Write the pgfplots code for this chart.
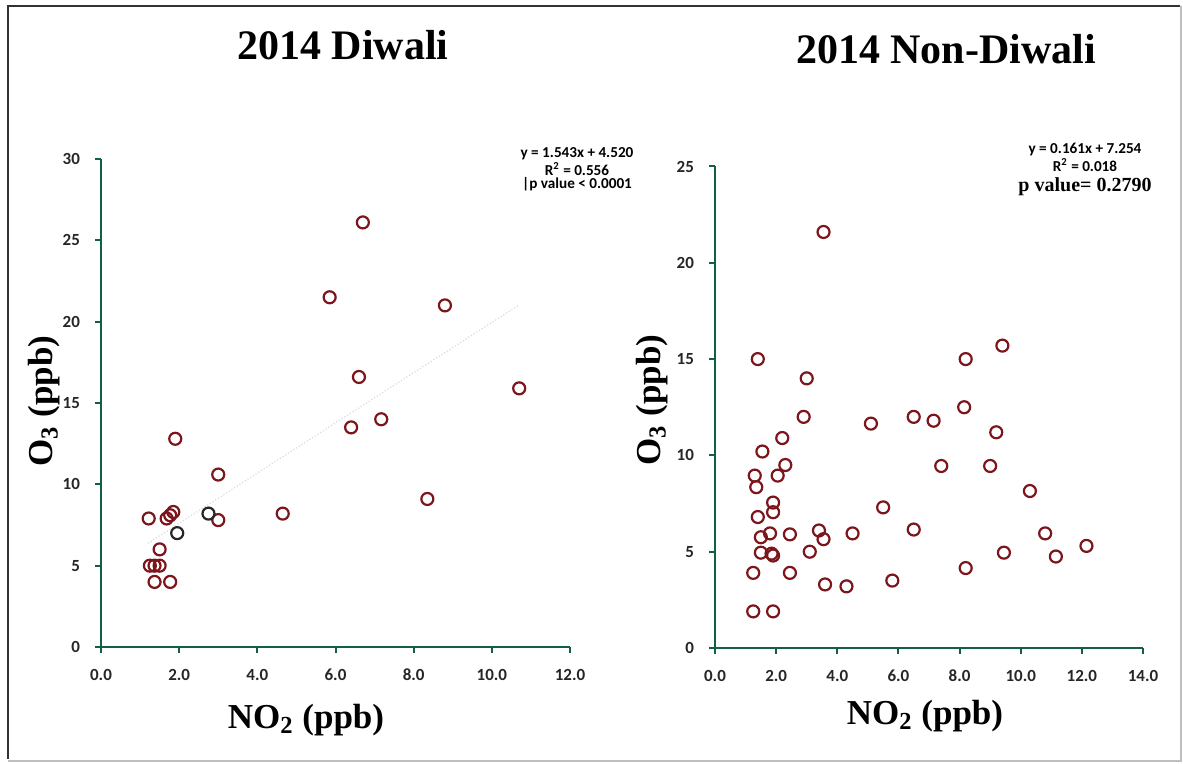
\documentclass[border=0pt]{standalone}
\usepackage{pgfplots}
\pgfplotsset{compat=1.18}
\usepackage{fontspec}
\setmainfont{Liberation Serif}
\newfontfamily\carlito{Carlito}

\definecolor{axgreen}{RGB}{18,95,65}
\definecolor{mkedge}{RGB}{125,22,28}
\definecolor{mkfill}{RGB}{250,218,218}

\pgfplotsset{
  panel/.style={
    scale only axis,
    anchor=south west,
    axis x line=bottom, axis y line=left,
    axis line style={draw=axgreen, line width=1.4pt, -},
    tick style={draw=axgreen, line width=1pt},
    tick align=outside,
    major tick length=3pt,
    ymin=0, xmin=0,
    /pgf/number format/assume math mode=true,
    ticklabel style={font=\carlito\bfseries\fontsize{8.5}{9}\selectfont, text=black!85},
    x tick label style={/pgf/number format/fixed, /pgf/number format/fixed zerofill,
      /pgf/number format/precision=1, yshift=-4.5pt},
    y tick label style={xshift=-4pt},
    clip=false,
  },
  obs/.style={only marks, mark=o, mark size=3pt,
    mark options={draw=mkedge, fill=mkfill, line width=1.1pt}},
}
\tikzset{stat/.style={font=\carlito\bfseries\fontsize{7.6}{8}\selectfont, inner sep=0pt}}

\begin{document}
\begin{tikzpicture}[x=0.5pt,y=0.5pt]
\useasboundingbox (0,0) rectangle (1183,764);
\fill[white] (0,0) rectangle (1183,764);
% frame around both panels
\draw[black!80, line width=1.4pt] (8,5) -- (8,758) -- (1180,758);
\draw[black!25, line width=1pt] (1181,758) -- (1181,3) -- (8,3);

% ---------- 2014 Diwali ----------
\begin{axis}[panel, at={(50.5pt,58.5pt)},
  width=234.5pt, height=244pt,
  xmax=12, ymax=30,
  xtick={0,2,...,12}, ytick={0,5,...,30}]
% fitted line y = 1.543x + 4.520
\addplot[gray!28, densely dotted, line width=0.6pt] coordinates {(1.2,6.37) (10.7,21.03)};
\addplot[obs] coordinates {
(6.7,26.1) (5.85,21.5) (8.8,21.0) (6.6,16.6) (10.7,15.9)
(7.17,14.0) (6.4,13.5) (1.9,12.8) (3.0,10.6) (8.35,9.1)
(1.85,8.3) (1.77,8.1) (1.68,7.9) (1.22,7.9) (3.0,7.8)
(4.65,8.2) (1.5,6.0) (1.25,5.0) (1.37,5.0) (1.5,5.0)
(1.37,4.0) (1.77,4.0)};
\addplot[only marks, mark=o, mark size=3pt,
  mark options={draw=black!85, fill=white, line width=1.1pt}]
  coordinates {(2.75,8.2) (1.95,7.0)};
\end{axis}

% ---------- 2014 Non-Diwali ----------
\begin{axis}[panel, at={(357.5pt,58pt)},
  width=214pt, height=240.75pt,
  xmax=14, ymax=25,
  xtick={0,2,...,14}, ytick={0,5,...,25}]
\addplot[obs] coordinates {
(3.55,21.6) (1.4,15.0) (3.0,14.0) (8.2,15.0) (9.4,15.7)
(2.9,12.0) (8.15,12.5) (6.5,12.0) (7.15,11.8) (5.1,11.65)
(9.2,11.2) (2.2,10.9) (1.55,10.2) (2.3,9.5) (7.4,9.45)
(9.0,9.45) (1.3,8.95) (2.05,8.95) (1.35,8.35) (10.3,8.15)
(1.9,7.55) (1.9,7.05) (5.5,7.3) (1.4,6.8) (6.5,6.15)
(3.4,6.1) (3.55,5.65) (4.5,5.95) (2.45,5.9) (1.8,5.95)
(1.5,5.75) (10.8,5.95) (1.5,4.95) (1.85,4.9) (1.9,4.8)
(3.1,5.0) (9.45,4.95) (11.15,4.75) (12.15,5.3) (1.25,3.9)
(2.45,3.9) (8.2,4.15) (3.6,3.3) (4.3,3.2) (5.8,3.5)
(1.25,1.9) (1.9,1.9)};
\end{axis}

% titles
\node[font=\bfseries\fontsize{21}{24}\selectfont] at (343,719) {2014 Diwali};
\node[font=\bfseries\fontsize{21}{24}\selectfont] at (946,715) {2014 Non-Diwali};

% axis titles
\node[font=\bfseries\fontsize{17.5}{20}\selectfont] at (306,44) {NO\textsubscript{2} (ppb)};
\node[font=\bfseries\fontsize{17.5}{20}\selectfont] at (925,48) {NO\textsubscript{2} (ppb)};
\node[font=\bfseries\fontsize{17.5}{20}\selectfont, rotate=90] at (44,363) {O\textsubscript{3} (ppb)};
\node[font=\bfseries\fontsize{17.5}{20}\selectfont, rotate=90] at (652,364) {O\textsubscript{3} (ppb)};

% regression statistics, Diwali
\node[stat] at (577,610) {y = 1.543x + 4.520};
\node[stat] at (577,595) {R\textsuperscript{2} = 0.556};
\node[stat] at (577,580) {|p value < 0.0001};
% regression statistics, Non-Diwali
\node[stat] at (1085,614) {y = 0.161x + 7.254};
\node[stat] at (1085,599) {R\textsuperscript{2} = 0.018};
\node[font=\bfseries\fontsize{10}{11}\selectfont, inner sep=0pt] at (1085,577) {p value= 0.2790};
\end{tikzpicture}
\end{document}
